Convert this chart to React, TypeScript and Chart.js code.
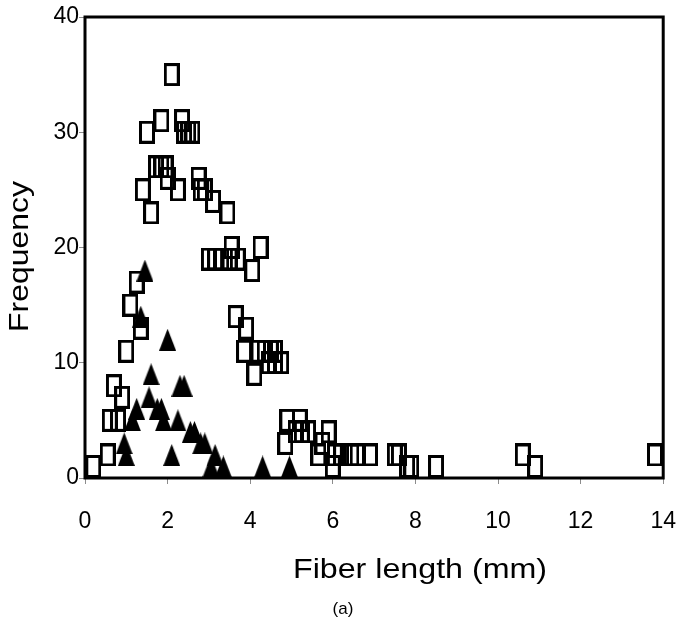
import { useEffect, useRef } from "react";
import { Chart, registerables } from "chart.js";

Chart.register(...registerables);

// Open squares series
const squareLength = [
  2.1,
  1.85, 2.35,
  1.5, 2.4, 2.5, 2.6,
  1.72, 1.85, 1.95,
  2.0, 2.75,
  1.4, 2.25, 2.8, 2.9,
  3.1,
  1.6, 3.45,
  3.55, 4.25,
  3.0, 3.15, 3.3, 3.5, 3.7,
  4.05,
  1.25,
  1.1,
  3.65,
  1.35, 3.9,
  1.0, 3.85, 4.2, 4.35, 4.5, 4.6,
  4.45, 4.6, 4.75,
  4.1,
  0.7,
  0.9,
  0.6, 0.8, 4.9, 5.2,
  5.1, 5.25, 5.4, 5.9,
  4.85, 5.75,
  0.55, 5.65, 6.05, 6.2, 6.45, 6.6, 6.9, 7.5, 7.6, 10.6, 13.8,
  0.2, 6.0, 7.8, 7.9, 8.5, 10.9,
];
const squareFreq = [
  35,
  31, 31,
  30, 30, 30, 30,
  27, 27, 27,
  26, 26,
  25, 25, 25, 25,
  24,
  23, 23,
  20, 20,
  19, 19, 19, 19, 19,
  18,
  17,
  15,
  14,
  13, 13,
  11, 11, 11, 11, 11, 11,
  10, 10, 10,
  9,
  8,
  7,
  5, 5, 5, 5,
  4, 4, 4, 4,
  3, 3,
  2, 2, 2, 2, 2, 2, 2, 2, 2, 2, 2,
  1, 1, 1, 1, 1, 1,
];

// Filled triangles series
const triangleLength = [
  1.45, 1.35, 2.0, 1.6, 2.3, 2.4, 1.55, 1.25, 1.75, 1.85, 1.15, 1.9, 2.25,
  2.55, 2.65, 0.95, 2.8, 2.9, 1.0, 2.1, 3.15, 3.05, 3.35, 4.3, 4.95,
];
const triangleFreq = [
  18, 14, 12, 9, 8, 8, 7, 6, 6, 6, 5, 5, 5,
  4, 4, 3, 3, 3, 2, 2, 2, 1, 1, 1, 1,
];

const xTickValues = [0, 2, 4, 6, 8, 10, 12, 14];
const yTickValues = [0, 10, 20, 30, 40];

const xTitle = "Fiber length (mm)";
const yTitle = "Frequency";
const panelLabel = "(a)";

const FONT = "'Liberation Sans', Arial, Helvetica, sans-serif";

function makeSquare(): HTMLCanvasElement {
  const c = document.createElement("canvas");
  c.width = 16;
  c.height = 23;
  const ctx = c.getContext("2d")!;
  ctx.strokeStyle = "#000";
  ctx.lineWidth = 3;
  ctx.strokeRect(1.5, 1.5, 13, 20);
  return c;
}

function makeTriangle(): HTMLCanvasElement {
  const c = document.createElement("canvas");
  c.width = 17;
  c.height = 22;
  const ctx = c.getContext("2d")!;
  ctx.fillStyle = "#000";
  ctx.beginPath();
  ctx.moveTo(8.5, 0);
  ctx.lineTo(17, 22);
  ctx.lineTo(0, 22);
  ctx.closePath();
  ctx.fill();
  return c;
}

const framePlugin = {
  id: "frame",
  afterDatasetsDraw(chart: any) {
    const { ctx, chartArea } = chart;
    ctx.save();
    ctx.strokeStyle = "#000";
    ctx.lineWidth = 3;
    ctx.strokeRect(
      chartArea.left,
      chartArea.top,
      chartArea.right - chartArea.left,
      chartArea.bottom - chartArea.top
    );
    ctx.restore();
  },
};

// Axis titles drawn with the slightly wide lettering of the original figure
const titlesPlugin = {
  id: "titles",
  afterDraw(chart: any) {
    const { ctx, chartArea } = chart;
    ctx.save();
    ctx.fillStyle = "#000";
    ctx.textBaseline = "alphabetic";
    ctx.textAlign = "center";

    // x title
    ctx.font = `28px ${FONT}`;
    ctx.save();
    ctx.translate(chartArea.left + 335, chartArea.bottom + 100);
    ctx.scale(1.15, 1);
    ctx.fillText(xTitle, 0, 0);
    ctx.restore();

    // y title
    ctx.save();
    ctx.translate(28, (chartArea.top + chartArea.bottom) / 2 + 9);
    ctx.rotate(-Math.PI / 2);
    ctx.scale(1.14, 1);
    ctx.fillText(yTitle, 0, 0);
    ctx.restore();

    // panel label
    ctx.font = `17px ${FONT}`;
    ctx.fillText(panelLabel, chartArea.left + 258, chartArea.bottom + 136);
    ctx.restore();
  },
};

export default function App() {
  const ref = useRef<HTMLCanvasElement | null>(null);

  useEffect(() => {
    if (!ref.current) return;
    const sq = makeSquare();
    const tri = makeTriangle();
    const chart = new Chart(ref.current, {
      type: "scatter",
      data: {
        datasets: [
          {
            label: "triangles",
            data: triangleLength.map((x, i) => ({ x, y: triangleFreq[i] })),
            pointStyle: tri,
            pointRadius: 8,
            order: 0,
            clip: false,
          },
          {
            label: "squares",
            data: squareLength.map((x, i) => ({ x, y: squareFreq[i] })),
            pointStyle: sq,
            pointRadius: 8,
            order: 1,
            clip: false,
          },
        ],
      },
      options: {
        animation: false,
        responsive: false,
        maintainAspectRatio: false,
        layout: { padding: { top: 17, right: 32, left: 0, bottom: 0 } },
        plugins: {
          legend: { display: false },
          tooltip: { enabled: false },
          title: { display: false },
        },
        scales: {
          x: {
            type: "linear",
            min: 0,
            max: 14,
            afterBuildTicks: (scale: any) => {
              scale.ticks = xTickValues.map((v) => ({ value: v }));
            },
            afterFit: (scale: any) => {
              scale.height = 632 - 478;
            },
            ticks: {
              color: "#000",
              font: { family: FONT, size: 23 },
              padding: 24,
              maxRotation: 0,
            },
            grid: {
              drawOnChartArea: false,
              drawTicks: true,
              tickLength: 6,
              color: "#8c8c8c",
              lineWidth: 1,
            },
            border: { display: false },
          },
          y: {
            type: "linear",
            min: 0,
            max: 40,
            afterBuildTicks: (scale: any) => {
              scale.ticks = yTickValues.map((v) => ({ value: v }));
            },
            afterFit: (scale: any) => {
              scale.width = 85;
            },
            ticks: {
              color: "#000",
              font: { family: FONT, size: 23 },
              padding: 0,
            },
            grid: {
              drawOnChartArea: false,
              drawTicks: true,
              tickLength: 6,
              color: "#8c8c8c",
              lineWidth: 1,
            },
            border: { display: false },
          },
        },
      },
      plugins: [framePlugin, titlesPlugin],
    } as any);
    return () => chart.destroy();
  }, []);

  return (
    <div style={{ position: "absolute", left: 0, top: 0, width: 700, height: 632, background: "#fff" }}>
      <canvas ref={ref} width={700} height={632} style={{ width: 700, height: 632, display: "block" }} />
    </div>
  );
}
